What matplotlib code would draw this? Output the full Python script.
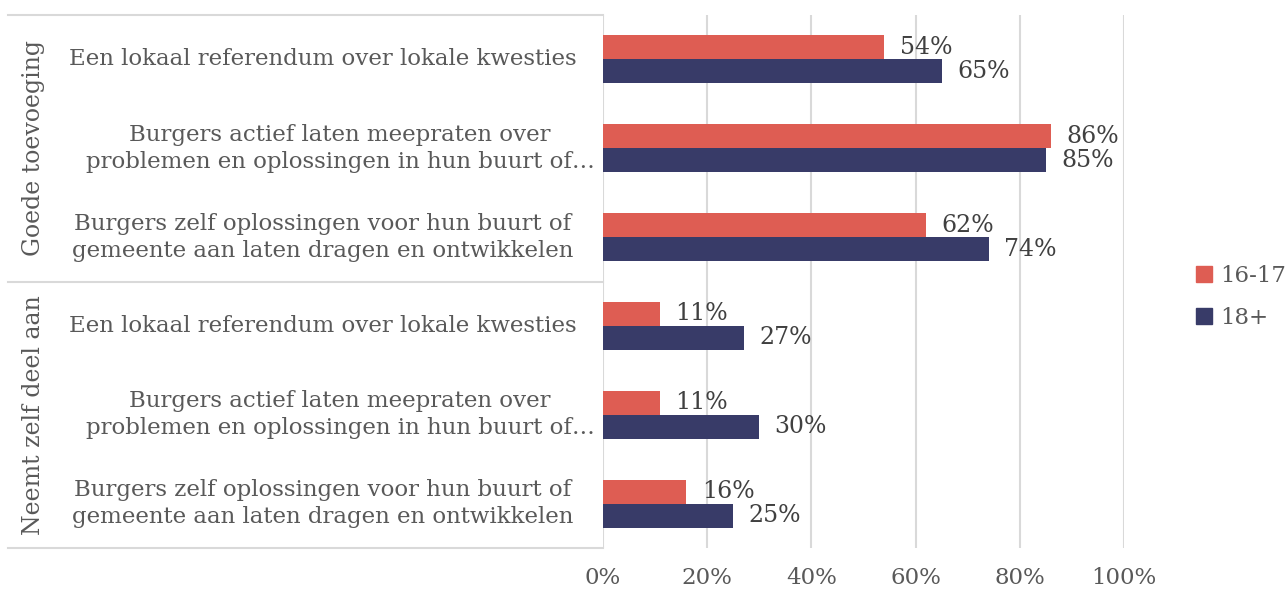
import numpy as np
import matplotlib
matplotlib.use("Agg")
import matplotlib.pyplot as plt
import matplotlib.transforms as mtransforms
from matplotlib.patches import Patch

categories = [
    "Een lokaal referendum over lokale kwesties",
    "Burgers actief laten meepraten over\nproblemen en oplossingen in hun buurt of…",
    "Burgers zelf oplossingen voor hun buurt of\ngemeente aan laten dragen en ontwikkelen",
    "Een lokaal referendum over lokale kwesties",
    "Burgers actief laten meepraten over\nproblemen en oplossingen in hun buurt of…",
    "Burgers zelf oplossingen voor hun buurt of\ngemeente aan laten dragen en ontwikkelen",
]
groups = ["Goede toevoeging", "Neemt zelf deel aan"]
series_names = ["16-17", "18+"]
young = [54, 86, 62, 11, 11, 16]
adult = [65, 85, 74, 27, 30, 25]
xticks = [0, 20, 40, 60, 80, 100]

RED = "#DE5D53"
NAVY = "#383B68"
TXT = "#595959"
GRID = "#D9D9D9"

plt.rcParams['font.family'] = ['DejaVu Serif']
FS = 16.5

W, H = 1288, 590
fig = plt.figure(figsize=(W / 100, H / 100), dpi=100)
ax = fig.add_axes([603 / W, 1 - 548 / H, (1124 - 603) / W, (548 - 15) / H])

y = np.arange(len(categories))
h = 0.27
b1 = ax.barh(y - h / 2, young, height=h, color=RED, zorder=3)
b2 = ax.barh(y + h / 2, adult, height=h, color=NAVY, zorder=3)
ax.bar_label(b1, labels=[f"{v}%" for v in young], padding=11, fontsize=17, color="#404040")
ax.bar_label(b2, labels=[f"{v}%" for v in adult], padding=11, fontsize=17, color="#404040")

ax.set_xlim(0, 100)
ax.set_ylim(len(categories) - 0.5, -0.5)
ax.set_xticks(xticks)
ax.set_xticklabels([f"{t}%" for t in xticks], fontsize=FS, color=TXT)
ax.set_yticks([])
ax.tick_params(axis='x', length=0, pad=14)
ax.grid(axis='x', color=GRID, linewidth=1.5, zorder=0)
for s in ax.spines.values():
    s.set_visible(False)

blend = mtransforms.blended_transform_factory(fig.transFigure, ax.transData)
for i, lab in enumerate(categories):
    xc = 340 if "…" in lab else 323
    ax.text(xc / W, i, lab, transform=blend, ha='center', va='center',
            multialignment='center', fontsize=FS, color=TXT, linespacing=1.3)

for gi, g in enumerate(groups):
    ax.text(34 / W, gi * 3 + 1, g, transform=blend, ha='center', va='center',
            rotation=90, fontsize=17, color=TXT)

for yy in [-0.5, 2.5, 5.5]:
    ax.plot([8 / W, 603 / W], [yy, yy], transform=blend, color=GRID,
            linewidth=1.5, clip_on=False)

handles = [Patch(color=RED), Patch(color=NAVY)]
fig.legend(handles, series_names, loc='center left',
           bbox_to_anchor=(1196 / W, 1 - 297 / H), frameon=False,
           borderpad=0, borderaxespad=0,
           fontsize=FS, handlelength=0.7, handleheight=0.7, handletextpad=0.35,
           labelspacing=0.85, labelcolor=TXT)

fig.savefig("out.png", dpi=100)
